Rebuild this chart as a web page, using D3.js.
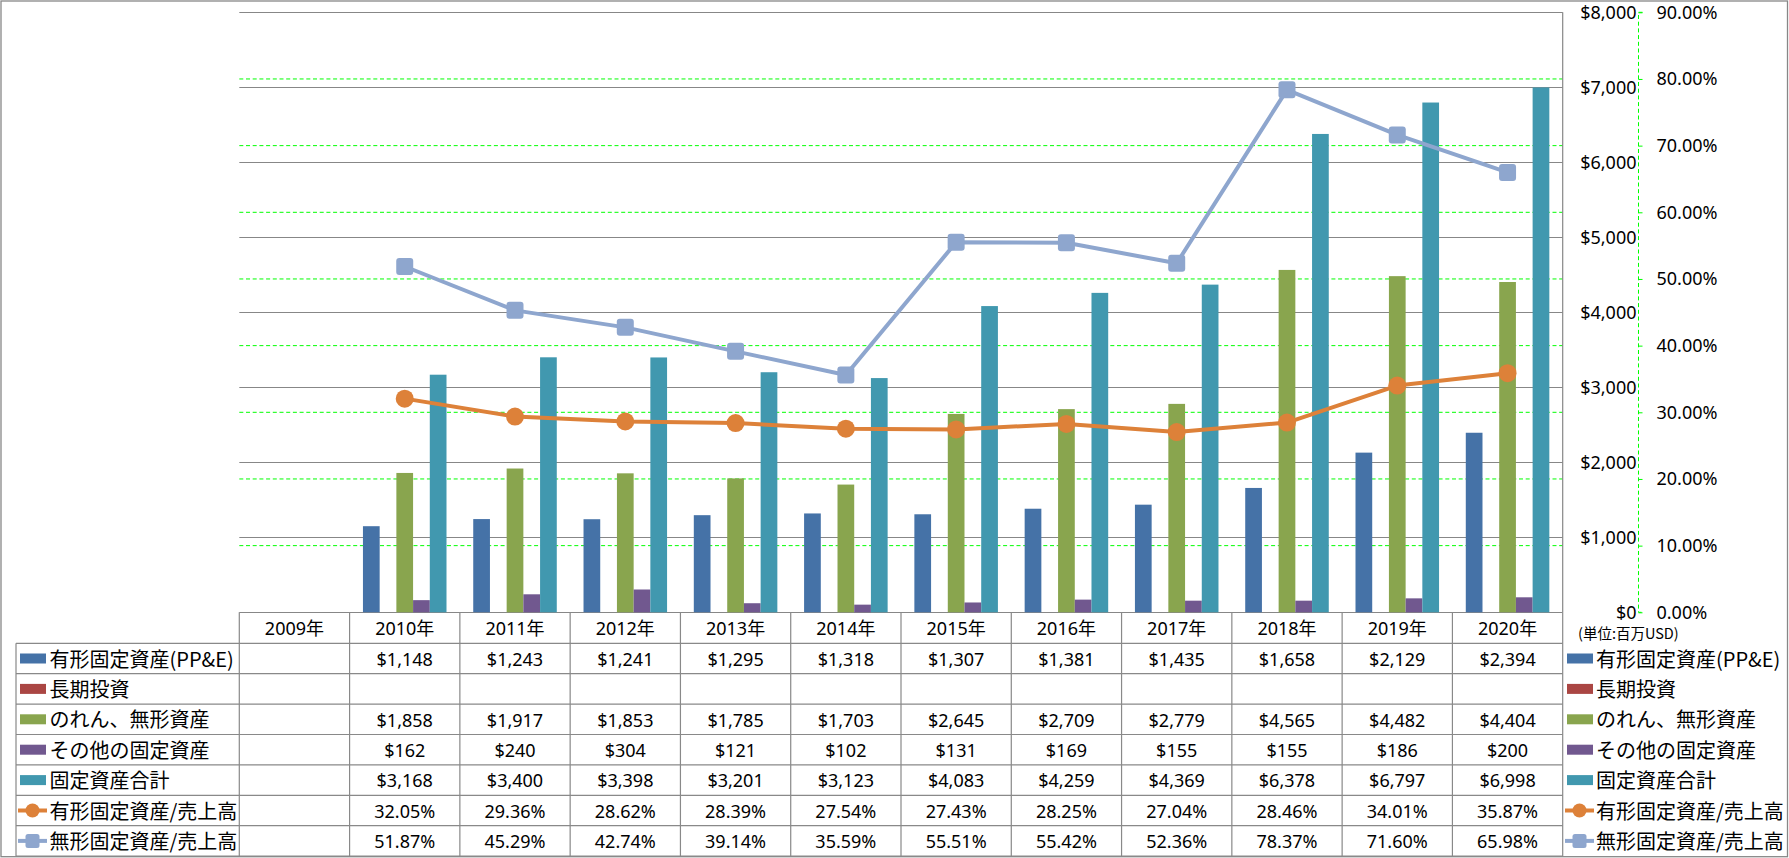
<!DOCTYPE html>
<html><head><meta charset="utf-8">
<script src="https://cdn.jsdelivr.net/npm/d3@7"></script>
<style>
html,body{margin:0;padding:0;background:#fff;}
svg{display:block;}
text{font-family:"Noto Sans","Noto Sans CJK JP",sans-serif;fill:#000;}
.jp{font-family:"Noto Sans CJK JP","Noto Sans",sans-serif;}
</style></head>
<body>
<script>
// ---- data ----
const years = ["2009年","2010年","2011年","2012年","2013年","2014年","2015年","2016年","2017年","2018年","2019年","2020年"];
const ppe = [null,1148,1243,1241,1295,1318,1307,1381,1435,1658,2129,2394];
const ltInvest = [null,null,null,null,null,null,null,null,null,null,null,null];
const goodwill = [null,1858,1917,1853,1785,1703,2645,2709,2779,4565,4482,4404];
const otherAssets = [null,162,240,304,121,102,131,169,155,155,186,200];
const totalAssets = [null,3168,3400,3398,3201,3123,4083,4259,4369,6378,6797,6998];
const ppeRatio = [null,32.05,29.36,28.62,28.39,27.54,27.43,28.25,27.04,28.46,34.01,35.87];
const intRatio = [null,51.87,45.29,42.74,39.14,35.59,55.51,55.42,52.36,78.37,71.60,65.98];
const seriesNames = ["有形固定資産(PP&E)","長期投資","のれん、無形資産","その他の固定資産","固定資産合計","有形固定資産/売上高","無形固定資産/売上高"];
const leftTicks = [0,1000,2000,3000,4000,5000,6000,7000,8000];
const rightTicks = [0,0.1,0.2,0.3,0.4,0.5,0.6,0.7,0.8,0.9];
const unitLabel = "(単位:百万USD)";

const colors = ["#4572A7","#AA4643","#89A54E","#71588F","#4198AF","#DD8139","#8EA6CE"];
const barSeries = [ppe, ltInvest, goodwill, otherAssets, totalAssets];
const lineSeries = [ppeRatio, intRatio];

const W = 1789, H = 858;
const X0 = 239.3, X1 = 1562.7, YT = 12.3, YB = 612.3;
const svg = d3.select("body").append("svg").attr("width", W).attr("height", H);

const x = d3.scaleBand().domain(years).range([X0, X1]).padding(0);
const bw = x.bandwidth();
const barW = bw / 6.6;
const xs = d3.scaleBand().domain(d3.range(5)).range([(bw - 5*barW)/2, (bw + 5*barW)/2]).padding(0);
const yL = d3.scaleLinear().domain([0, 8000]).range([YB, YT]);
const yR = d3.scaleLinear().domain([0, 0.9]).range([YB, YT]);

// outer border
svg.append("rect").attr("x",1).attr("y",1).attr("width",W-2.5).attr("height",H-2.3)
  .attr("fill","none").attr("stroke","#878787").attr("stroke-width",1.3);

// green dashed secondary gridlines
svg.append("g").selectAll("line").data(rightTicks.filter(d=>d>0 && d<0.85)).join("line")
  .attr("x1",X0).attr("x2",X1).attr("y1",d=>yR(d)).attr("y2",d=>yR(d))
  .attr("stroke","#00FF00").attr("stroke-width",1).attr("stroke-dasharray","4,2.7");
// gray primary gridlines
svg.append("g").selectAll("line").data(leftTicks).join("line")
  .attr("x1",X0).attr("x2",X1).attr("y1",d=>Math.round(yL(d))+0.5).attr("y2",d=>Math.round(yL(d))+0.5)
  .attr("stroke","#878787").attr("stroke-width",1.2);
// plot right border
svg.append("line").attr("x1",X1).attr("x2",X1).attr("y1",YT).attr("y2",YB)
  .attr("stroke","#878787").attr("stroke-width",1.2);

// bars
barSeries.forEach((s, i) => {
  svg.append("g").selectAll("rect").data(years.map((y,k)=>({y, v:s[k]})).filter(d=>d.v!=null)).join("rect")
    .attr("x", d => x(d.y) + xs(i))
    .attr("width", xs.bandwidth())
    .attr("y", d => yL(d.v))
    .attr("height", d => yL(0) - yL(d.v))
    .attr("fill", colors[i]);
});

// lines
const markerSize = 17;
lineSeries.forEach((s, i) => {
  const pts = years.map((y,k)=>({y, v:s[k]})).filter(d=>d.v!=null);
  const line = d3.line().x(d => x(d.y) + bw/2).y(d => yR(d.v/100));
  const col = colors[5+i];
  svg.append("path").datum(pts).attr("d", line).attr("fill","none")
    .attr("stroke", col).attr("stroke-width", 4).attr("stroke-linejoin","round");
  const g = svg.append("g");
  if (i === 0) {
    g.selectAll("circle").data(pts).join("circle")
      .attr("cx", d => x(d.y)+bw/2).attr("cy", d => yR(d.v/100)).attr("r", 9).attr("fill", col);
  } else {
    g.selectAll("rect").data(pts).join("rect")
      .attr("x", d => x(d.y)+bw/2-markerSize/2).attr("y", d => yR(d.v/100)-markerSize/2)
      .attr("width", markerSize).attr("height", markerSize).attr("rx",3).attr("fill", col);
  }
});

// axes on right
const axL = svg.append("g").attr("transform",`translate(1638.5,0)`)
  .call(d3.axisLeft(yL).tickValues(leftTicks).tickFormat(d3.format("$,")).tickSize(0).tickPadding(2));
axL.select(".domain").remove();
axL.selectAll("text").attr("font-size",18).attr("font-family",null).attr("fill","#000");

const axR = svg.append("g").attr("transform",`translate(1638.5,0)`)
  .call(d3.axisRight(yR).tickValues(rightTicks).tickFormat(d3.format(".2%")).tickSize(4).tickPadding(14));
axR.select(".domain").attr("stroke","#00FF00").attr("stroke-dasharray","4,2.7").attr("d",`M4,${YT}H0V${YB}H4`);
axR.selectAll(".tick line").attr("stroke","#00FF00");
axR.selectAll("text").attr("font-size",18).attr("font-family",null).attr("fill","#000");

// unit label
svg.append("text").attr("class","jp").attr("x",1578).attr("y",633.5).attr("dy","0.35em")
  .attr("font-size",14.5).text(unitLabel);

// ---- data table ----
const hdrTop = YB, hdrBot = 643.3, rowH = 30.4;
const tbl = svg.append("g");
const lc = "#898989";
const rowsTop = d3.range(8).map(i => hdrBot + i*rowH);
years.forEach(y => {
  tbl.append("line").attr("x1",x(y)).attr("x2",x(y)).attr("y1",hdrTop).attr("y2",rowsTop[7]).attr("stroke",lc).attr("stroke-width",1.2);
});
tbl.append("line").attr("x1",X1).attr("x2",X1).attr("y1",hdrTop).attr("y2",rowsTop[7]).attr("stroke",lc).attr("stroke-width",1.2);
tbl.append("line").attr("x1",16).attr("x2",16).attr("y1",hdrBot).attr("y2",rowsTop[7]).attr("stroke",lc).attr("stroke-width",1.2);
rowsTop.forEach(yy => {
  tbl.append("line").attr("x1",16).attr("x2",X1).attr("y1",yy).attr("y2",yy).attr("stroke",lc).attr("stroke-width",1.2);
});
// header labels
tbl.selectAll("text.hdr").data(years).join("text").attr("class","hdr")
  .attr("x", d => x(d)+bw/2).attr("y",(hdrTop+hdrBot)/2+1).attr("dy","0.35em")
  .attr("text-anchor","middle").attr("font-size",18).text(d=>d);

const fmtD = d3.format("$,");
const allRows = [ppe, ltInvest, goodwill, otherAssets, totalAssets, ppeRatio, intRatio];
allRows.forEach((s, r) => {
  const cy = rowsTop[r] + rowH/2;
  tbl.append("g").selectAll("text").data(years.map((y,k)=>({y,v:s[k]})).filter(d=>d.v!=null)).join("text")
    .attr("x", d => x(d.y)+bw/2).attr("y", cy+1).attr("dy","0.35em").attr("text-anchor","middle")
    .attr("font-size",18).text(d => r < 5 ? fmtD(d.v) : d.v.toFixed(2)+"%");
  [[18, 49.5],[1565, 1596]].forEach(([kx, tx]) => {
    const col = colors[r];
    if (r < 5) {
      tbl.append("rect").attr("x",kx+2).attr("y",cy-5).attr("width",26).attr("height",10).attr("fill",col);
    } else {
      tbl.append("line").attr("x1",kx).attr("x2",kx+29).attr("y1",cy).attr("y2",cy).attr("stroke",col).attr("stroke-width",4);
      if (r === 5) tbl.append("circle").attr("cx",kx+14.5).attr("cy",cy).attr("r",7).attr("fill",col);
      else tbl.append("rect").attr("x",kx+14.5-7).attr("y",cy-7).attr("width",14).attr("height",14).attr("rx",2.5).attr("fill",col);
    }
    tbl.append("text").attr("class","jp").attr("x",tx).attr("y",cy+1).attr("dy","0.35em")
      .attr("font-size",20).text(seriesNames[r]);
  });
});
</script>
</body></html>
